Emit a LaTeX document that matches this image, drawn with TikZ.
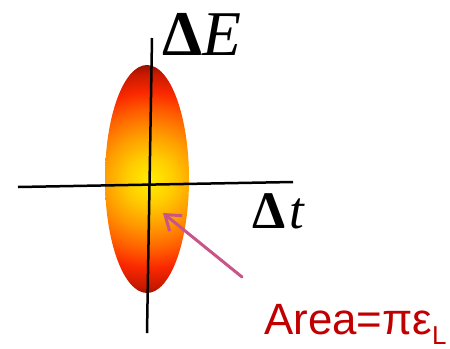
\documentclass[tikz,border=0pt]{standalone}
\usepackage{fontspec}
\setmainfont{Liberation Serif}
\newfontfamily\areafont{Liberation Sans}
\usetikzlibrary{arrows.meta}
\definecolor{arrowpink}{RGB}{200,85,135}
\definecolor{areared}{RGB}{192,0,0}
\definecolor{bc0}{RGB}{255,238,0}
\definecolor{bc1}{RGB}{255,205,0}
\definecolor{bc2}{RGB}{255,155,0}
\definecolor{bc3}{RGB}{255,95,0}
\definecolor{bc4}{RGB}{250,40,0}
\definecolor{bc5}{RGB}{200,25,0}
\definecolor{bc6}{RGB}{145,15,0}
\pgfdeclareradialshading{beam}{\pgfpoint{0bp}{0bp}}{%
 color(0bp)=(bc0); color(5bp)=(bc1); color(10bp)=(bc2); color(15bp)=(bc3);
 color(19bp)=(bc4); color(23bp)=(bc5); color(25bp)=(bc6); color(50bp)=(bc6)}
\tikzset{
 axis/.style={draw=black, line width=2.5bp},
 pointer/.style={draw=arrowpink, line width=3bp, line cap=round,
   -{Straight Barb[length=14bp,width=20bp]}},
 label/.style={inner sep=0pt, anchor=base west}
}
\begin{document}
\begin{tikzpicture}[x=1bp,y=-1bp]
\useasboundingbox (0,0) rectangle (450,348);
\begin{scope}
 \clip (147,179) ellipse [x radius=42bp, y radius=114bp];
 \shade[shading=beam] (150,180) circle [radius=116bp];
\end{scope}
\coordinate (vtop) at (152,38);
\coordinate (vbot) at (147,333);
\coordinate (hl) at (18,187);
\coordinate (hr) at (293,182);
\draw[axis] (hl) -- (hr);
\draw[axis] (vtop) -- (vbot);
\node[label, font=\fontsize{64}{64}\selectfont] (dE) at (162,55) {\textbf{Δ}\textit{E}};
\node[label, font=\fontsize{53}{53}\selectfont] (dt) at (252,228) {\textbf{Δ}\kern4bp\textit{t}};
\node[label, font=\areafont\fontsize{44}{44}\selectfont, text=areared] (area) at (264,334)
  {Area=πε\raisebox{-10bp}{\fontsize{26}{26}\selectfont L}};
\coordinate (astart) at (242,277);
\coordinate (atip) at (163,213);
\draw[pointer] (astart) -- (atip);
\end{tikzpicture}
\end{document}
